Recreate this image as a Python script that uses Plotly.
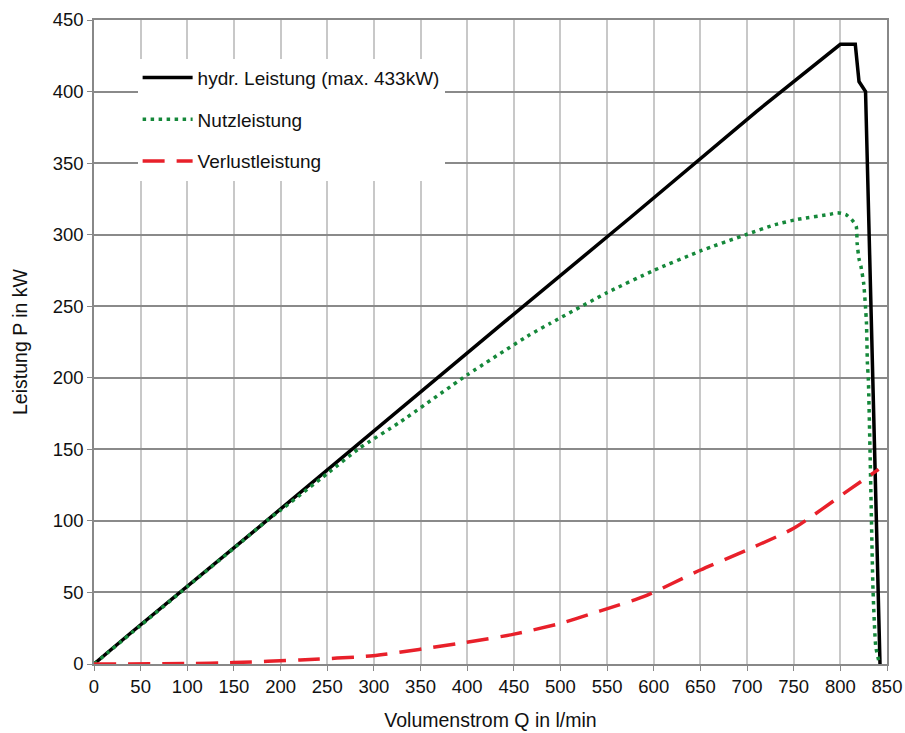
import plotly.graph_objects as go

# Hydraulische Leistung
q_hydr = [0, 40, 170, 300, 440, 575, 710, 800, 816, 820, 827, 842.5]
p_hydr = [0, 22, 92, 163, 239, 312, 386, 433, 433, 407, 400, 0]

# Nutzleistung
q_nutz = [0, 50, 100, 150, 185, 200, 250, 285, 328, 400, 467, 489, 550, 600, 650,
          700, 730, 754, 789, 797, 806, 812, 817, 818, 820, 822, 825, 827, 828,
          829, 830, 832, 835, 838, 842]
p_nutz = [0, 27, 54, 81, 100, 107.5, 133, 151, 169, 202, 230, 238, 259.5, 275, 288.6,
          300.3, 307, 310.7, 314.3, 315.4, 314, 310.7, 306, 294, 283, 278, 266, 249, 238,
          210, 199, 143, 52, 12, 0]

# Verlustleistung
q_verl = [0, 100, 150, 221, 299, 399, 449, 500, 542, 589, 650, 700, 750, 810, 841]
p_verl = [0, 0.3, 1, 2.8, 5.8, 15.2, 20.7, 28.4, 37, 47, 65.7, 79.7, 94.8, 122, 136]

x_ticks = list(range(0, 851, 50))
y_ticks = list(range(0, 451, 50))

FONT = "Liberation Sans, Arial, sans-serif"

fig = go.Figure()
fig.add_trace(go.Scatter(x=q_hydr, y=p_hydr, mode="lines", name="hydr. Leistung (max. 433kW)",
                         line=dict(color="#000000", width=3.5), legendgroup="a"))
fig.add_trace(go.Scatter(x=q_nutz, y=p_nutz, mode="lines", name="Nutzleistung",
                         line=dict(color="#15883a", width=3.5, dash="3.5px,4.5px", shape="spline", smoothing=0.5),
                         legendgroup="b"))
fig.add_trace(go.Scatter(x=q_verl, y=p_verl, mode="lines", name="Verlustleistung",
                         line=dict(color="#e8202a", width=3.5, dash="22px,12px", shape="spline", smoothing=0.6),
                         legendgroup="c"))

fig.update_layout(
    width=905, height=733,
    margin=dict(l=94, r=18, t=20, b=69),
    paper_bgcolor="white", plot_bgcolor="white",
    font=dict(family=FONT, size=17, color="#111111"),
    legend=dict(x=0.055, y=0.94, xanchor="left", yanchor="top",
                bgcolor="white", borderwidth=0, tracegroupgap=14, itemwidth=50,
                font=dict(family=FONT, size=19, color="#111111")),
    xaxis=dict(range=[0, 850], tickvals=x_ticks, showgrid=True, gridcolor="#c8c8c8", gridwidth=1.5,
               showline=True, linecolor="#888888", linewidth=1.5, mirror=True, automargin=False,
               ticks="outside", ticklen=5, tickcolor="#888888", zeroline=False,
               title=dict(text="Volumenstrom Q in l/min", font=dict(size=19.5), standoff=17),
               tickfont=dict(size=18.5)),
    yaxis=dict(range=[0, 450], tickvals=y_ticks, showgrid=True, gridcolor="#8a8a8a", gridwidth=1.5,
               showline=True, linecolor="#888888", linewidth=1.5, mirror=True, automargin=False,
               ticks="outside", ticklen=5, tickcolor="#888888", zeroline=False,
               title=dict(text="Leistung P in kW", font=dict(size=19.5), standoff=20),
               tickfont=dict(size=18.5)),
)

fig.write_html("out.html")
